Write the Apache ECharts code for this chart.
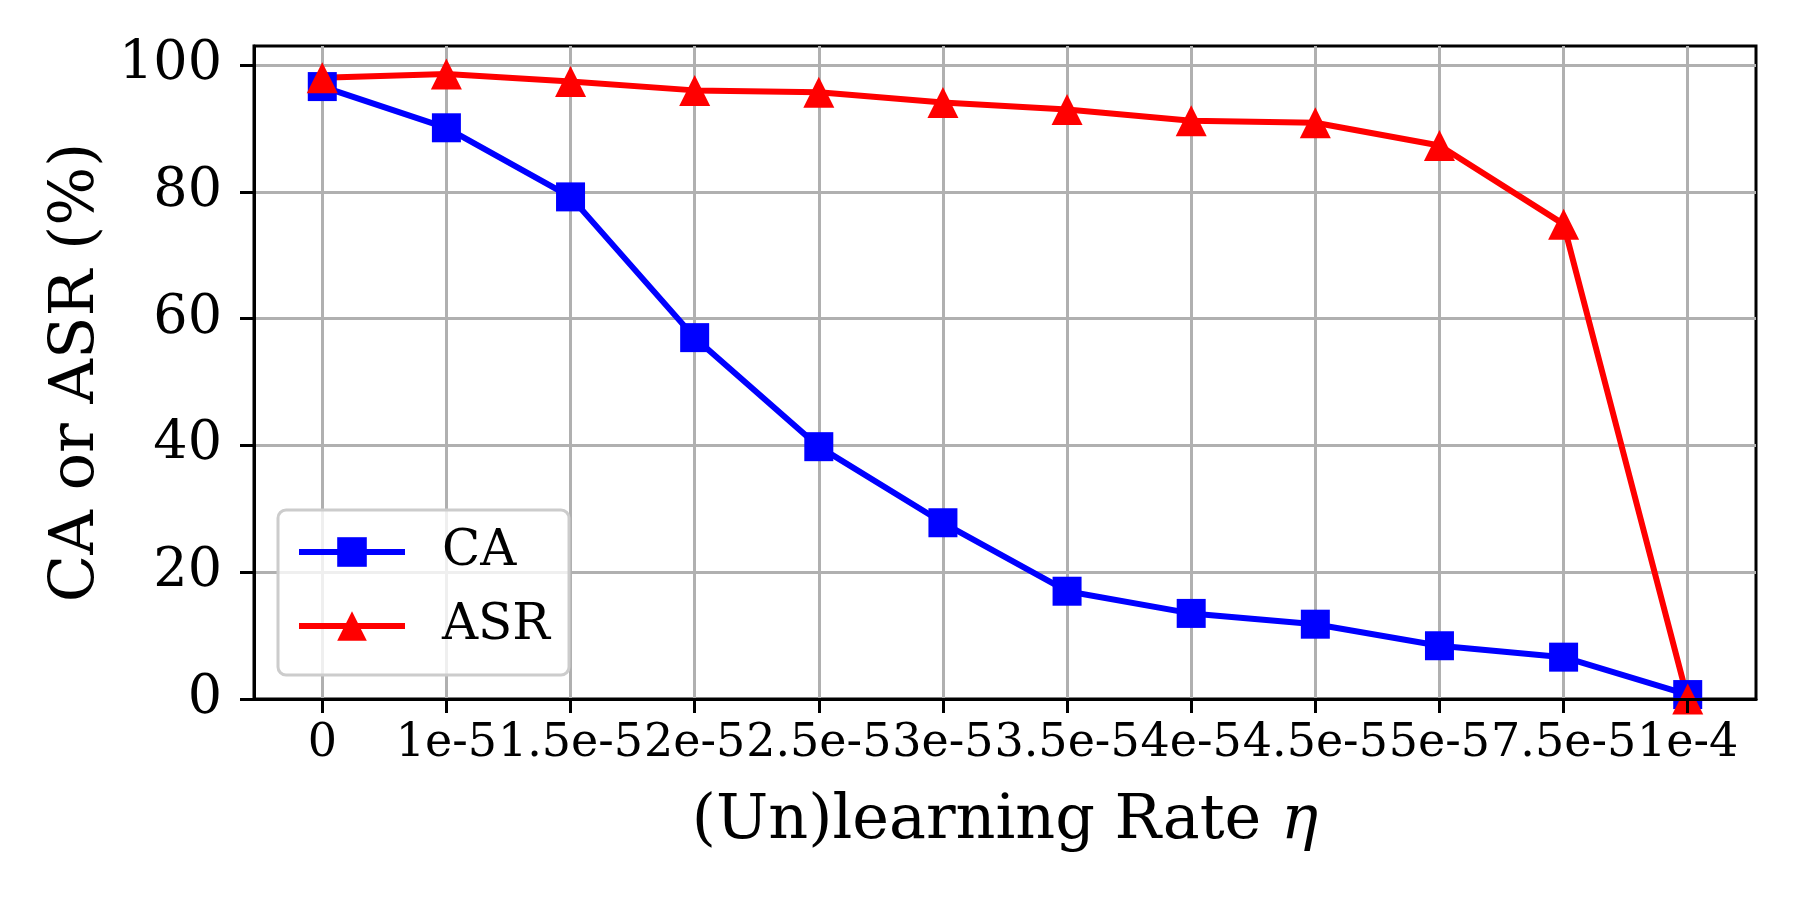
<!DOCTYPE html>
<html>
<head>
<meta charset="utf-8">
<title>CA / ASR vs (Un)learning Rate</title>
<script src="https://cdn.jsdelivr.net/npm/echarts@6/dist/echarts.min.js"></script>
<style>
    html, body { margin: 0; padding: 0; background: #fff; }
    #main { width: 1800px; height: 900px; }
</style>
</head>
<body>
<div id="main"></div>
<script>
// x categories (learning rate)
var xLabels = ['0', '1e-5', '1.5e-5', '2e-5', '2.5e-5', '3e-5', '3.5e-5', '4e-5', '4.5e-5', '5e-5', '7.5e-5', '1e-4'];
// y ticks
var yTicks = [0, 20, 40, 60, 80, 100];
// series values (%)
var caValues = [96.6, 90.1, 79.2, 57.0, 39.8, 27.8, 17.0, 13.5, 11.8, 8.4, 6.6, 0.7];
var asrValues = [98.0, 98.6, 97.4, 96.0, 95.7, 94.1, 93.0, 91.2, 90.9, 87.3, 74.9, 0.0];

var FONT = 'DejaVu Serif';
var GRID = { left: 254, right: 44, top: 46, bottom: 201 };

function toPoints(values) {
    var out = [];
    for (var i = 0; i < values.length; i++) {
        out.push([i, values[i]]);
    }
    return out;
}

var xIdx = [];
for (var k = 0; k < xLabels.length; k++) xIdx.push(k);

var myChart = echarts.init(document.getElementById('main'));

option = {
    animation: false,
    backgroundColor: '#ffffff',
    grid: {
        left: GRID.left,
        right: GRID.right,
        top: GRID.top,
        bottom: GRID.bottom,
        show: true,
        borderColor: '#000',
        borderWidth: 3,
        backgroundColor: 'transparent'
    },
    // white band under the axis so markers are clipped like in matplotlib
    graphic: [{
        type: 'rect',
        z: 3,
        silent: true,
        shape: { x: GRID.left, y: 900 - GRID.bottom + 1.5, width: 1800 - GRID.left - GRID.right, height: 30 },
        style: { fill: '#ffffff' }
    }],
    legend: {
        orient: 'vertical',
        left: 278,
        top: 510,
        padding: [17, 19, 24, 18],
        itemWidth: 106,
        itemHeight: 37,
        itemGap: 24,
        backgroundColor: 'rgba(255,255,255,0.8)',
        borderColor: '#cccccc',
        borderWidth: 3,
        borderRadius: 8,
        lineStyle: { width: 6 },
        textStyle: {
            fontFamily: FONT,
            fontSize: 50,
            color: '#000',
            padding: [0, 0, 0, 32]
        },
        data: ['CA', 'ASR']
    },
    xAxis: [
        {
            type: 'value',
            z: 4,
            min: -0.55,
            max: 11.55,
            name: '(Un)learning Rate {i|η}',
            nameLocation: 'middle',
            nameGap: 92,
            nameTextStyle: {
                fontFamily: FONT,
                fontSize: 62,
                color: '#000',
                rich: {
                    i: { fontFamily: FONT, fontSize: 62, fontStyle: 'italic', color: '#000' }
                }
            },
            axisLine: { show: true, onZero: false, lineStyle: { color: '#000', width: 3 } },
            axisTick: {
                show: true,
                length: 14,
                customValues: xIdx,
                lineStyle: { color: '#000', width: 3 }
            },
            axisLabel: {
                customValues: xIdx,
                fontFamily: FONT,
                fontSize: 46,
                color: '#000',
                margin: 22,
                formatter: function (v) {
                    return xLabels[Math.round(v)];
                }
            },
            splitLine: { show: false }
        },
        {
            // grid lines only, kept under the series
            type: 'value',
            z: 0,
            min: -0.55,
            max: 11.55,
            position: 'bottom',
            axisLine: { show: false },
            axisTick: { show: false, customValues: xIdx },
            axisLabel: { show: false, customValues: xIdx },
            splitLine: { show: true, lineStyle: { color: '#b0b0b0', width: 3 } }
        }
    ],
    yAxis: {
        type: 'value',
        min: 0,
        max: 103,
        name: 'CA or ASR (%)',
        nameLocation: 'middle',
        nameGap: 145,
        nameTextStyle: { fontFamily: FONT, fontSize: 62, color: '#000' },
        axisLine: { show: true, onZero: false, lineStyle: { color: '#000', width: 3 } },
        axisTick: {
            show: true,
            length: 14,
            customValues: yTicks,
            lineStyle: { color: '#000', width: 3 }
        },
        axisLabel: {
            customValues: yTicks,
            fontFamily: FONT,
            fontSize: 54,
            color: '#000',
            margin: 32
        },
        splitLine: { show: true, lineStyle: { color: '#b0b0b0', width: 3 } }
    },
    series: [
        {
            name: 'CA',
            type: 'line',
            xAxisIndex: 0,
            data: toPoints(caValues),
            symbol: 'rect',
            symbolSize: 29,
            itemStyle: { color: '#0000ff' },
            lineStyle: { color: '#0000ff', width: 6 }
        },
        {
            name: 'ASR',
            type: 'line',
            xAxisIndex: 0,
            data: toPoints(asrValues),
            symbol: 'triangle',
            symbolSize: 31,
            itemStyle: { color: '#ff0000' },
            lineStyle: { color: '#ff0000', width: 6 }
        }
    ]
};

myChart.setOption(option);
</script>
</body>
</html>
